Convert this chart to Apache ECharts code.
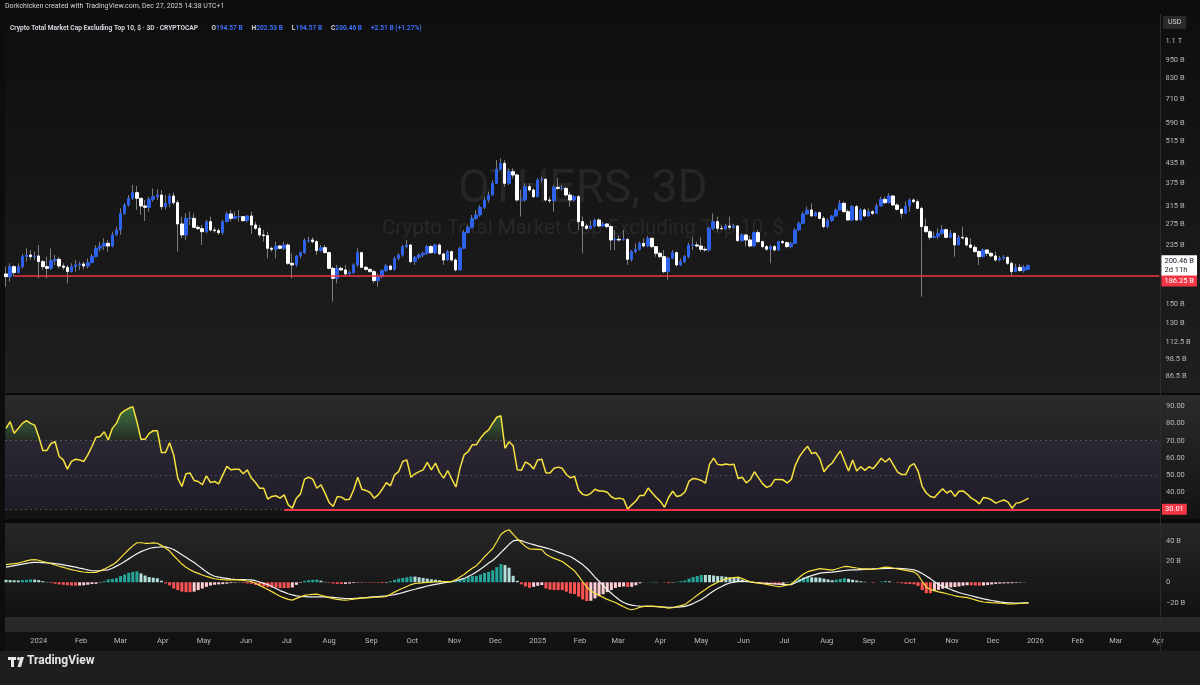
<!DOCTYPE html>
<html><head><meta charset="utf-8">
<script src="https://cdn.jsdelivr.net/npm/echarts@6/dist/echarts.min.js"></script>
<style>html,body{margin:0;padding:0;background:#1e1e1e;}#c{width:1200px;height:685px;}</style>
</head><body><div id="c"></div>
<script>
// ---------- DATA (values in billions USD) ----------
const firstCandle = '2023-12-08';
const candleDays = 3;
const openB = [188.3,184.5,199.0,190.2,199.0,214.7,217.4,214.7,215.8,206.7,
199.0,196.5,208.3,210.4,200.0,198.0,191.6,199.0,201.6,203.1,
200.0,205.1,214.7,228.7,232.7,237.5,232.7,253.0,262.7,298.1,
317.5,334.0,348.6,334.0,315.1,312.0,331.4,338.2,342.5,313.5,
321.6,339.9,323.2,275.0,253.0,287.0,287.0,268.1,265.4,259.4,
279.9,262.7,261.4,257.5,279.9,296.6,287.0,290.7,290.7,282.0,
292.1,272.9,266.1,253.0,251.7,228.7,227.0,232.7,228.7,234.5,
204.1,201.6,215.8,221.3,242.3,243.6,240.5,224.7,229.8,221.3,
196.5,182.2,196.5,194.1,188.3,190.2,201.6,221.3,198.0,195.0,
191.6,179.0,184.5,193.1,200.0,195.0,212.0,217.4,231.6,234.5,
206.7,213.6,217.4,220.2,231.6,221.3,234.5,219.1,209.3,223.0,
209.3,194.1,228.7,257.5,268.1,287.0,294.4,312.0,329.8,342.5,
374.1,416.0,435.3,374.1,408.7,398.5,329.8,329.8,364.8,355.7,
338.2,383.7,385.7,329.8,328.1,363.0,360.2,360.2,342.5,329.8,
338.2,279.9,270.8,266.1,270.8,283.4,270.8,275.0,269.5,243.6,
244.8,243.6,244.8,210.4,223.0,227.0,237.5,232.7,246.7,231.6,
220.2,214.7,191.6,212.0,221.3,201.6,206.7,214.7,234.5,234.5,
232.7,227.0,225.8,266.1,279.9,266.1,265.4,270.8,268.1,270.8,
242.3,253.0,243.6,232.7,257.5,240.5,231.6,227.0,231.6,225.8,
240.5,238.7,231.6,237.5,262.7,276.4,296.6,305.7,292.1,299.6,
287.0,269.5,282.0,292.1,305.7,321.6,301.9,283.4,313.5,283.4,
305.7,292.1,301.9,298.1,315.1,331.4,323.2,339.9,317.5,307.3,
298.1,315.1,329.8,325.6,309.6,269.5,259.4,248.5,249.8,256.2,
263.4,248.5,256.2,234.5,248.5,247.3,234.5,230.4,223.0,214.7,
225.8,220.2,215.8,209.3,212.0,213.6,204.1,191.6,198.0,193.1,
194.57];
const highB = [199.0,204.1,201.6,204.1,219.1,228.7,225.8,223.0,234.5,209.3,
214.7,228.7,217.4,214.7,204.1,201.6,204.1,209.3,206.7,206.7,
212.0,219.1,234.5,240.5,246.7,243.6,259.4,269.5,309.6,321.6,
342.5,369.5,366.7,334.0,329.8,338.2,360.2,357.5,355.7,342.5,
346.9,348.6,329.8,290.7,298.1,301.9,298.1,272.9,272.9,283.4,
290.7,268.1,266.1,283.4,301.9,305.7,301.9,305.7,292.1,294.4,
301.9,279.9,272.9,262.7,259.4,231.6,240.5,234.5,240.5,237.5,
220.2,217.4,223.0,246.7,249.8,248.5,243.6,234.5,234.5,223.0,
199.0,201.6,199.0,201.6,193.1,204.1,228.7,223.0,200.0,196.5,
194.1,189.2,195.0,203.1,201.6,214.7,220.2,234.5,243.6,236.3,
215.8,220.2,223.0,234.5,234.5,236.3,237.5,221.3,225.8,224.7,
212.0,231.6,262.7,272.9,294.4,305.7,317.5,338.2,351.3,383.7,
446.5,452.1,446.5,419.2,419.2,403.6,355.7,374.1,374.1,360.2,
388.6,393.5,388.6,338.2,369.5,388.6,369.5,364.8,351.3,342.5,
342.5,290.7,275.0,282.0,287.0,287.0,279.9,276.4,272.9,262.7,
253.0,262.7,246.7,225.8,237.5,240.5,246.7,251.2,248.5,232.7,
223.0,225.8,214.7,225.8,223.0,212.0,217.4,238.7,248.5,240.5,
248.5,231.6,269.5,298.1,290.7,272.9,275.0,290.7,275.0,272.9,
256.2,254.9,251.2,259.4,262.7,242.3,234.5,234.5,234.5,242.3,
243.6,240.5,240.5,266.1,279.9,301.9,313.5,321.6,301.9,301.9,
292.1,287.0,294.4,309.6,329.8,325.6,307.3,317.5,317.5,309.6,
309.6,309.6,305.7,321.6,338.2,338.2,346.9,342.5,321.6,309.6,
325.6,334.0,334.0,331.4,313.5,287.0,264.1,259.4,266.1,272.9,
265.4,262.7,257.5,253.0,269.5,249.8,246.7,234.5,225.8,228.7,
227.0,223.0,223.0,215.8,217.4,214.7,206.7,203.1,203.1,201.6,
202.53];
const lowB = [171.0,177.7,184.5,189.2,196.5,206.7,209.3,209.3,182.2,194.1,
182.2,194.1,201.6,196.5,194.1,175.4,190.2,191.6,194.1,195.0,
196.5,204.1,213.6,223.0,225.8,223.0,230.4,251.0,253.0,294.4,
313.5,329.8,305.7,294.4,281.3,301.9,325.6,329.8,305.7,307.3,
312.0,317.5,223.0,246.7,243.6,272.9,266.1,262.7,234.5,256.2,
259.4,257.5,253.0,253.0,277.7,279.9,284.8,279.9,279.9,277.7,
254.9,262.7,248.5,240.5,212.0,223.0,212.0,227.0,225.8,201.6,
182.2,199.0,212.0,219.1,238.7,237.5,217.4,223.0,220.2,195.0,
152.7,175.4,193.1,185.4,186.9,188.3,199.0,196.5,193.1,190.2,
175.4,171.0,182.2,191.6,193.1,193.1,208.3,214.7,228.7,204.1,
201.6,210.4,213.6,217.4,219.1,219.1,217.4,201.6,208.3,206.7,
191.6,193.1,227.0,256.2,266.1,283.4,290.7,307.3,323.2,339.9,
372.3,413.9,364.8,369.5,388.6,325.6,290.7,325.6,351.3,334.0,
336.5,375.8,325.6,321.6,301.9,355.7,354.0,338.2,313.5,325.6,
262.7,220.2,262.7,264.1,268.1,268.1,269.5,266.1,225.8,225.8,
240.5,242.3,201.6,206.7,220.2,224.7,230.4,230.4,228.7,214.7,
212.0,189.2,179.9,210.4,199.0,200.0,204.1,212.0,225.8,230.4,
223.0,223.0,223.0,262.7,259.4,262.7,264.1,262.7,266.1,240.5,
240.5,231.6,230.4,231.6,237.5,228.7,224.7,204.1,223.0,224.7,
236.3,228.7,228.7,236.3,261.4,275.0,294.4,290.7,290.7,284.8,
266.1,266.1,279.9,290.7,304.2,299.6,282.0,282.0,282.0,282.0,
290.7,290.7,294.4,296.6,313.5,319.9,321.6,315.1,304.2,287.0,
296.6,301.9,321.6,307.3,158.6,257.5,243.6,246.7,244.8,253.0,
246.7,246.7,214.7,234.5,244.8,231.6,228.7,221.3,201.6,213.6,
215.8,213.6,206.7,206.7,209.3,201.6,185.4,191.6,191.6,190.2,
194.57];
const closeB = [184.5,199.0,190.2,199.0,214.7,217.4,214.7,215.8,206.7,199.0,
196.5,208.3,210.4,200.0,198.0,191.6,199.0,201.6,203.1,200.0,
205.1,214.7,228.7,232.7,237.5,232.7,253.0,262.7,298.1,317.5,
334.0,348.6,334.0,315.1,312.0,331.4,338.2,342.5,313.5,321.6,
339.9,323.2,275.0,253.0,287.0,287.0,268.1,265.4,259.4,279.9,
262.7,261.4,257.5,279.9,296.6,287.0,290.7,290.7,282.0,292.1,
272.9,266.1,253.0,251.7,228.7,227.0,232.7,228.7,234.5,204.1,
201.6,215.8,221.3,242.3,243.6,240.5,224.7,229.8,221.3,196.5,
182.2,196.5,194.1,188.3,190.2,201.6,221.3,198.0,195.0,191.6,
179.0,184.5,193.1,200.0,195.0,212.0,217.4,231.6,234.5,206.7,
213.6,217.4,220.2,231.6,221.3,234.5,219.1,209.3,223.0,209.3,
194.1,228.7,257.5,268.1,287.0,294.4,312.0,329.8,342.5,374.1,
416.0,435.3,374.1,408.7,398.5,329.8,329.8,364.8,355.7,338.2,
383.7,385.7,329.8,328.1,363.0,360.2,360.2,342.5,329.8,338.2,
279.9,270.8,266.1,270.8,283.4,270.8,275.0,269.5,243.6,244.8,
243.6,244.8,210.4,223.0,227.0,237.5,232.7,246.7,231.6,220.2,
214.7,191.6,212.0,221.3,201.6,206.7,214.7,234.5,234.5,232.7,
227.0,225.8,266.1,279.9,266.1,265.4,270.8,268.1,270.8,242.3,
253.0,243.6,232.7,257.5,240.5,231.6,227.0,231.6,225.8,240.5,
238.7,231.6,237.5,262.7,276.4,296.6,305.7,292.1,299.6,287.0,
269.5,282.0,292.1,305.7,321.6,301.9,283.4,313.5,283.4,305.7,
292.1,301.9,298.1,315.1,331.4,323.2,339.9,317.5,307.3,298.1,
315.1,329.8,325.6,309.6,269.5,259.4,248.5,249.8,256.2,263.4,
248.5,256.2,234.5,248.5,247.3,234.5,230.4,223.0,214.7,225.8,
220.2,215.8,209.3,212.0,213.6,204.1,191.6,198.0,193.1,197.95,
200.46];
const rsiValues = [77.2,81.1,74.3,77.2,80.1,81.7,80.1,79.1,72.3,64.3,
64.3,68.4,69.4,60.8,58.8,53.4,57.9,59.2,58.8,57.9,
61.7,66.6,72.0,72.4,75.2,70.4,77.2,80.1,85.6,87.5,
88.9,89.9,81.1,70.8,70.8,74.3,75.8,75.8,63.1,63.1,
68.8,61.7,48.2,43.3,50.7,51.1,46.8,46.2,44.3,49.5,
45.6,46.2,44.8,50.1,55.0,53.0,53.4,53.4,50.7,53.0,
48.2,45.6,42.3,42.3,35.9,37.5,37.9,36.5,38.4,32.6,
30.7,36.5,39.0,47.6,48.7,47.6,42.3,44.3,39.4,34.0,
31.6,37.5,37.1,35.5,35.9,41.4,48.7,41.7,41.0,39.8,
36.5,38.4,41.7,45.6,43.7,50.1,52.0,57.9,58.8,48.7,
50.7,52.0,53.0,57.3,53.0,56.9,51.5,48.2,52.6,47.6,
43.0,54.0,61.7,63.7,67.6,67.6,71.5,74.4,76.3,80.2,
83.7,84.5,65.6,69.4,67.0,53.1,52.7,57.6,56.2,53.5,
58.8,59.2,51.3,51.1,53.9,54.6,53.9,50.3,48.3,49.3,
41.3,38.7,38.1,39.3,41.7,40.7,40.7,39.9,37.3,36.1,
36.5,35.9,30.1,32.6,34.8,38.1,38.1,42.4,39.5,36.9,
34.6,31.2,36.9,40.5,37.5,38.1,40.1,46.4,48.0,47.6,
46.8,45.2,56.2,59.8,56.2,55.8,56.4,56.0,56.2,48.0,
48.7,45.4,47.4,51.9,48.3,44.8,42.8,43.8,47.4,47.4,
47.2,45.4,47.4,55.8,60.7,64.1,66.7,62.5,63.1,59.4,
51.9,55.0,57.0,60.7,64.1,58.2,52.3,58.8,52.3,54.8,
52.7,54.8,53.7,56.6,59.8,57.6,59.8,55.8,51.7,50.3,
50.3,55.2,56.6,52.3,43.4,39.5,37.5,36.9,39.5,42.0,
39.5,40.9,37.5,40.5,40.7,38.9,36.5,35.2,33.2,36.9,
36.5,35.4,33.6,34.6,35.4,34.2,30.6,33.6,34.0,35.2,
36.5];
const macdLine = [16.9,17.4,17.9,18.4,19.5,20.5,21.5,21.8,21.2,20.0,
19.0,17.8,16.6,15.4,14.3,13.2,12.2,11.3,10.5,9.9,
9.5,9.4,9.5,10.8,12.6,14.7,16.7,19.5,23.5,27.5,
31.5,35.0,38.0,38.0,37.5,37.5,37.8,37.5,35.5,33.0,
30.0,25.5,21.5,17.5,14.5,12.0,10.0,8.5,7.0,5.6,
4.4,3.4,2.9,2.5,2.3,2.3,2.3,2.3,1.8,1.2,
0.7,-1.0,-3.0,-5.0,-7.0,-9.0,-11.2,-13.5,-15.0,-16.5,
-17.2,-15.5,-14.0,-12.6,-12.0,-11.6,-11.4,-12.5,-13.6,-14.8,
-15.8,-16.4,-17.0,-17.2,-16.8,-16.2,-15.7,-15.3,-15.0,-14.7,
-14.4,-14.2,-14.1,-13.5,-11.5,-9.5,-7.5,-5.8,-4.0,-2.2,
-1.2,-0.8,-0.4,-0.1,0.2,0.5,0.7,0.7,0.7,0.7,
2.5,5.0,7.5,10.5,13.5,16.0,20.0,24.5,28.5,32.5,
39.0,46.0,49.0,50.5,46.0,42.0,38.0,34.5,32.0,31.8,
31.6,31.4,27.0,24.8,23.0,21.5,20.0,17.0,14.0,11.0,
6.0,0.5,-4.5,-8.3,-10.5,-12.5,-14.5,-16.5,-18.0,-19.5,
-21.5,-23.5,-25.5,-26.4,-25.5,-24.0,-23.2,-23.0,-23.0,-23.1,
-23.6,-24.2,-24.8,-24.5,-23.5,-22.5,-21.5,-18.5,-15.5,-12.5,
-9.5,-7.0,-4.0,-2.0,0.0,1.8,3.3,4.0,4.5,5.0,
3.5,2.0,0.5,-0.3,-0.8,-1.4,-2.0,-2.8,-3.6,-4.3,
-3.5,-2.5,-1.7,1.5,4.8,8.0,10.2,11.2,12.2,13.2,
12.7,12.2,11.7,12.8,14.0,15.2,15.0,14.3,13.7,13.2,
12.9,12.6,12.3,13.0,13.8,14.6,14.3,13.5,12.8,12.2,
11.5,10.8,10.0,7.0,1.0,-4.5,-7.0,-8.0,-9.3,-10.0,
-11.0,-12.0,-13.0,-13.8,-14.3,-14.8,-15.8,-17.0,-18.2,-19.0,
-19.3,-19.6,-19.8,-20.1,-20.4,-20.7,-20.8,-20.6,-20.4,-20.1,
-19.8];
const signalLine = [14.6,15.3,16.0,16.7,17.4,18.1,18.8,19.2,19.1,18.9,
18.7,18.5,18.0,17.4,16.7,16.0,15.3,14.5,13.6,12.8,
11.9,11.1,11.0,11.2,11.6,12.0,13.5,15.5,17.5,20.0,
22.5,25.0,27.5,29.5,31.0,32.5,33.4,33.7,34.0,34.1,
33.0,31.5,29.0,26.5,24.0,21.5,19.0,16.0,13.0,10.0,
7.5,5.8,4.9,4.3,3.7,3.1,2.8,2.6,2.5,2.4,
2.3,1.5,0.3,-1.0,-2.2,-4.0,-6.0,-8.0,-9.5,-11.0,
-12.2,-13.0,-13.5,-13.9,-14.0,-14.0,-14.0,-14.0,-14.0,-14.3,
-14.6,-14.9,-15.3,-15.6,-15.6,-15.5,-15.3,-15.0,-14.7,-14.3,
-14.0,-13.7,-13.4,-13.0,-12.5,-11.8,-11.0,-10.0,-8.8,-7.7,
-6.7,-5.6,-4.6,-3.6,-2.7,-2.0,-1.3,-0.6,0.0,0.6,
1.5,2.6,3.7,5.5,7.5,9.8,12.5,15.5,18.5,21.0,
24.5,28.5,32.5,36.5,39.8,40.6,40.0,38.5,37.3,36.2,
35.0,34.0,33.0,32.0,30.5,29.0,27.5,26.0,24.8,22.3,
19.8,17.0,13.5,9.5,5.0,1.0,-3.0,-7.0,-10.5,-14.0,
-17.0,-19.5,-21.0,-22.0,-22.6,-23.0,-23.1,-23.2,-23.3,-23.4,
-23.6,-23.8,-24.0,-24.1,-24.0,-23.6,-23.2,-22.0,-20.5,-18.5,
-16.5,-14.0,-11.0,-8.5,-6.0,-4.0,-2.0,-0.7,0.2,0.9,
1.0,0.8,0.3,-0.1,-0.4,-0.8,-1.1,-1.4,-1.6,-1.8,
-2.0,-2.2,-2.3,-0.5,1.5,3.5,5.2,6.4,7.6,8.8,
9.2,9.5,9.8,10.3,10.8,11.3,11.7,11.9,12.0,12.2,
12.4,12.6,12.8,13.0,13.2,13.3,13.4,13.4,13.3,13.2,
12.9,12.5,12.0,10.5,8.5,6.0,3.5,0.5,-2.0,-3.8,
-5.3,-7.0,-8.5,-9.8,-11.0,-12.0,-13.0,-14.0,-15.0,-15.9,
-16.7,-17.5,-18.2,-18.8,-19.3,-19.7,-19.9,-20.0,-20.0,-19.9,
-19.8];
const macdHist = [2.3,2.1,1.9,1.7,2.1,2.4,2.7,2.6,2.1,1.1,
0.3,-0.7,-1.4,-2.0,-2.4,-2.8,-3.1,-3.2,-3.1,-2.9,
-2.4,-1.7,-1.5,-0.4,1.0,2.7,3.2,4.0,6.0,7.5,
9.0,10.0,10.5,8.5,6.5,5.0,4.4,3.8,1.5,-1.1,
-3.0,-6.0,-7.5,-9.0,-9.5,-9.5,-9.0,-7.5,-6.0,-4.4,
-3.1,-2.4,-2.0,-1.8,-1.4,-0.8,-0.5,-0.3,-0.7,-1.2,
-1.6,-2.5,-3.3,-4.0,-4.8,-5.0,-5.2,-5.5,-5.5,-5.5,
-5.0,-2.5,-0.5,1.3,2.0,2.4,2.6,1.5,0.4,-0.5,
-1.2,-1.5,-1.7,-1.6,-1.2,-0.7,-0.4,-0.3,-0.3,-0.4,
-0.4,-0.5,-0.7,-0.5,1.0,2.3,3.5,4.2,4.8,5.5,
5.5,4.8,4.2,3.5,2.9,2.5,2.0,1.3,0.7,0.1,
1.0,2.4,3.8,5.0,6.0,6.2,7.5,9.0,10.0,11.5,
14.5,17.5,16.5,14.0,6.2,1.4,-2.0,-4.0,-5.3,-4.4,
-3.4,-2.6,-6.0,-7.2,-7.5,-7.5,-7.5,-9.0,-10.8,-11.3,
-13.8,-16.5,-18.0,-17.8,-15.5,-13.5,-11.5,-9.5,-7.5,-5.5,
-4.5,-4.0,-4.5,-4.4,-2.9,-1.0,-0.1,0.2,0.3,0.3,
0.0,-0.4,-0.8,-0.4,0.5,1.1,1.7,3.5,5.0,6.0,
7.0,7.0,7.0,6.5,6.0,5.8,5.3,4.7,4.3,4.1,
2.5,1.2,0.2,-0.2,-0.4,-0.6,-0.9,-1.4,-2.0,-2.5,
-1.5,-0.3,0.6,2.0,3.3,4.5,5.0,4.8,4.6,4.4,
3.5,2.7,1.9,2.5,3.2,3.9,3.3,2.4,1.7,1.0,
0.5,0.0,-0.5,0.0,0.6,1.3,0.9,0.1,-0.5,-1.0,
-1.4,-1.7,-2.0,-3.5,-7.5,-10.5,-10.5,-8.5,-7.3,-6.2,
-5.7,-5.0,-4.5,-4.0,-3.3,-2.8,-2.8,-3.0,-3.2,-3.1,
-2.6,-2.1,-1.6,-1.3,-1.1,-1.0,-0.9,-0.6,-0.4,-0.2,
0.0];
const priceTicks = [1100,950,830,710,590,515,435,375,315,275,235,150,130,112.5,98.5,86.5];
const priceTickLabels = ['1.1 T','950 B','830 B','710 B','590 B','515 B','435 B','375 B','315 B','275 B','235 B','150 B','130 B','112.5 B','98.5 B','86.5 B'];
const rsiTicks = [40,50,60,70,80,90];
const macdTicks = [-20,0,20,40];
const macdTickLabels = ['\u221220 B','0','20 B','40 B'];
const monthTicks = ['2024-01-01','2024-02-01','2024-03-01','2024-04-01','2024-05-01','2024-06-01','2024-07-01','2024-08-01','2024-09-01','2024-10-01','2024-11-01','2024-12-01',
'2025-01-01','2025-02-01','2025-03-01','2025-04-01','2025-05-01','2025-06-01','2025-07-01','2025-08-01','2025-09-01','2025-10-01','2025-11-01','2025-12-01',
'2026-01-01','2026-02-01','2026-03-01','2026-04-01'];
const monthNames = ['Jan','Feb','Mar','Apr','May','Jun','Jul','Aug','Sep','Oct','Nov','Dec'];
const supportLevel = 186.25;
const supportFromIndex = 2;
const rsiLevel = 30.01;
const rsiLevelFromIndex = 68;
const rsiOverbought = 70;
const countdown = '2d 11h';
const headerLine1 = 'Dorkchicken created with TradingView.com, Dec 27, 2025 14:38 UTC+1';
const symbolName = 'Crypto Total Market Cap Excluding Top 10, $ \u00b7 3D \u00b7 CRYPTOCAP';
const watermark1 = 'OTHERS, 3D';
const watermark2 = 'Crypto Total Market Cap Excluding Top 10, $';

// ---------- BUILD ----------
const DAY = 86400000;
const t0 = Date.parse(firstCandle + 'T00:00:00Z');
const times = openB.map((_, i) => t0 + i * candleDays * DAY);
const lg = v => Math.log10(v);
const xMin = Date.UTC(2023, 11, 7, 6);
const xMax = Date.UTC(2026, 3, 2, 11);
const last = closeB.length - 1;

const wickData = times.map((t, i) => [t, lg(openB[i]), lg(closeB[i]), lg(lowB[i]), lg(highB[i])]);
const bodyData = times.map((t, i) => [t, lg(openB[i]), lg(closeB[i]), lg(Math.min(openB[i], closeB[i])), lg(Math.max(openB[i], closeB[i]))]);
const rsiData = times.map((t, i) => [t, rsiValues[i]]);
const macdData = times.map((t, i) => [t, macdLine[i]]);
const sigData = times.map((t, i) => [t, signalLine[i]]);
const histData = times.map((t, i) => [t, macdHist[i]]);

const FONT = 'Roboto, "Noto Sans", sans-serif';
const AX = '#b7bac2';
const UP = '#2f62ea';
const G = echarts.graphic.LinearGradient;

const chg = closeB[last] - closeB[last - 1];
const pct = chg / closeB[last - 1] * 100;
const f2 = v => v.toFixed(2);
const header2 = '{t|' + symbolName + '}   {k|O}{v|' + f2(openB[last]) + ' B}  {k|H}{v|' + f2(highB[last]) +
  ' B}  {k|L}{v|' + f2(lowB[last]) + ' B}  {k|C}{v|' + f2(closeB[last]) + ' B}  {v|' + (chg >= 0 ? '+' : '') + f2(chg) +
  ' B (' + (pct >= 0 ? '+' : '') + f2(pct) + '%)}';

// fill between RSI line and the overbought level, segment by segment
function renderOverbought(params, api) {
  const i = params.dataIndex;
  if (i >= rsiValues.length - 1) return null;
  const L = rsiOverbought, a = rsiValues[i], b = rsiValues[i + 1];
  if (a <= L && b <= L) return null;
  const ta = times[i], tb = times[i + 1];
  let pts;
  if (a >= L && b >= L) pts = [[ta, a], [tb, b], [tb, L], [ta, L]];
  else if (a > L) { const tc = ta + (tb - ta) * (a - L) / (a - b); pts = [[ta, a], [tc, L], [ta, L]]; }
  else { const tc = ta + (tb - ta) * (L - a) / (b - a); pts = [[tc, L], [tb, b], [tb, L]]; }
  const yTop = api.coord([ta, 92])[1], yBase = api.coord([ta, L])[1];
  return { type: 'polygon', shape: { points: pts.map(p => api.coord(p)) },
    style: { fill: new G(0, yTop, 0, yBase, [{ offset: 0, color: 'rgba(76,175,80,0.62)' }, { offset: 1, color: 'rgba(76,175,80,0.06)' }], true) } };
}

function hiddenX(grid) {
  return { type: 'value', gridIndex: grid, min: xMin, max: xMax, axisLine: { show: false }, axisTick: { show: false },
    axisLabel: { show: false }, splitLine: { show: false } };
}
function yAx(grid, min, max, extra) {
  return Object.assign({ type: 'value', gridIndex: grid, position: 'right', min: min, max: max, scale: true,
    splitLine: { show: false }, axisTick: { show: false }, axisLine: { show: false } }, extra);
}

const chart = echarts.init(document.getElementById('c'), null, { renderer: 'canvas' });
chart.setOption({
  animation: false,
  backgroundColor: '#141414',
  textStyle: { fontFamily: FONT },
  graphic: { elements: [
    { type: 'rect', z: -10, shape: { x: 0, y: 0, width: 1200, height: 14 }, style: { fill: '#0d0d0d' } },
    { type: 'rect', z: -10, shape: { x: 0, y: 14, width: 1200, height: 379 }, style: { fill: new G(0, 0, 0, 1, [{ offset: 0, color: '#0e0e0e' }, { offset: 1, color: '#1f1f1f' }]) } },
    { type: 'rect', z: -10, shape: { x: 0, y: 393, width: 1200, height: 2 }, style: { fill: '#0a0a0a' } },
    { type: 'rect', z: -10, shape: { x: 0, y: 395, width: 1200, height: 124 }, style: { fill: new G(0, 0, 0, 1, [{ offset: 0, color: '#2b2b2b' }, { offset: 1, color: '#131313' }]) } },
    { type: 'rect', z: -10, shape: { x: 0, y: 519, width: 1200, height: 4 }, style: { fill: '#0a0a0a' } },
    { type: 'rect', z: -10, shape: { x: 0, y: 523, width: 1200, height: 94 }, style: { fill: new G(0, 0, 0, 1, [{ offset: 0, color: '#272727' }, { offset: 1, color: '#111111' }]) } },
    { type: 'rect', z: -10, shape: { x: 0, y: 617, width: 1200, height: 15 }, style: { fill: '#292929' } },
    { type: 'rect', z: -10, shape: { x: 0, y: 632, width: 1200, height: 19 }, style: { fill: '#121212' } },
    { type: 'rect', z: -10, shape: { x: 0, y: 651, width: 1200, height: 34 }, style: { fill: '#1e1e1e' } },
    { type: 'rect', z: -9, shape: { x: 0, y: 14, width: 5, height: 637 }, style: { fill: '#0d0d0d' } },
    { type: 'line', z: 5, shape: { x1: 1160.5, y1: 14, x2: 1160.5, y2: 651 }, style: { stroke: '#2c2c2c', lineWidth: 1 } },
    { type: 'rect', z: 5, shape: { x: 8, y: 657, width: 8, height: 3 }, style: { fill: '#e6e6e6' } },
    { type: 'rect', z: 5, shape: { x: 11, y: 657, width: 3, height: 10 }, style: { fill: '#e6e6e6' } },
    { type: 'circle', z: 5, shape: { cx: 18.5, cy: 658.6, r: 1.6 }, style: { fill: '#e6e6e6' } },
    { type: 'polygon', z: 5, shape: { points: [[20.5, 657], [24, 657], [21, 667], [17.5, 667]] }, style: { fill: '#e6e6e6' } }
  ] },
  title: [
    { text: headerLine1, left: 5, top: 3, padding: 0, textStyle: { color: '#d1d4dc', fontSize: 7, fontWeight: 'normal', fontFamily: FONT } },
    { text: header2, left: 10, top: 19, padding: 0, textStyle: { fontFamily: FONT, rich: {
      t: { color: '#d1d4dc', fontSize: 6.6, fontFamily: FONT }, k: { color: '#d1d4dc', fontSize: 6.6, fontFamily: FONT },
      v: { color: '#3d6ef5', fontSize: 6.6, fontFamily: FONT } } } },
    { text: watermark1, left: 583, top: 167, textAlign: 'center', z: 1, padding: 0, textStyle: { color: 'rgba(255,255,255,0.07)', fontSize: 46, fontWeight: 'normal', fontFamily: FONT } },
    { text: watermark2, left: 583, top: 218, textAlign: 'center', z: 1, padding: 0, textStyle: { color: 'rgba(255,255,255,0.07)', fontSize: 20.5, fontWeight: 'normal', fontFamily: FONT } },
    { text: 'USD', left: 1163, top: 16, padding: [3, 5], backgroundColor: '#2a2a2a', borderRadius: 2, textStyle: { color: '#d1d4dc', fontSize: 7, fontWeight: 'normal', fontFamily: FONT } },
    { text: 'TradingView', left: 27, top: 655, padding: 0, textStyle: { color: '#e6e6e6', fontSize: 12, fontWeight: 'bold', fontFamily: FONT } }
  ],
  grid: [
    { left: 5, right: 40, top: 14, height: 379 },
    { left: 5, right: 40, top: 395, height: 124 },
    { left: 5, right: 40, top: 523, height: 94 }
  ],
  xAxis: [
    hiddenX(0), hiddenX(1),
    { type: 'value', gridIndex: 2, min: xMin, max: xMax, axisLine: { show: false }, axisTick: { show: false },
      splitLine: { show: false },
      axisLabel: { show: true, margin: 20, color: AX, fontSize: 7.5, fontFamily: FONT, hideOverlap: false,
        customValues: monthTicks.map(d => Date.parse(d + 'T00:00:00Z')),
        formatter: v => { const d = new Date(v); const m = d.getUTCMonth(); return m === 0 ? String(d.getUTCFullYear()) : monthNames[m]; } } }
  ],
  yAxis: [
    yAx(0, lg(76.4), lg(1349.6), { axisLabel: { color: AX, fontSize: 7.5, margin: 6, fontFamily: FONT,
      customValues: priceTicks.map(lg),
      formatter: v => { let bi = 0, bd = 1e9; priceTicks.forEach((p, i) => { const d = Math.abs(lg(p) - v); if (d < bd) { bd = d; bi = i; } }); return priceTickLabels[bi]; } } }),
    yAx(0, lg(76.4), lg(1349.6), { axisLabel: { color: '#131722', fontSize: 7.5, margin: 2, fontFamily: FONT, backgroundColor: '#ffffff',
      padding: [2, 3, 1, 3], lineHeight: 9, customValues: [lg(closeB[last])],
      formatter: () => f2(closeB[last]) + ' B\n' + countdown } }),
    yAx(0, lg(76.4), lg(1349.6), { axisLabel: { color: '#ffffff', fontSize: 7.5, margin: 2, fontFamily: FONT, backgroundColor: '#f23645',
      padding: [2, 3, 1, 3], verticalAlign: 'top', customValues: [lg(supportLevel)],
      formatter: () => f2(supportLevel) + ' B' } }),
    yAx(1, 24.34, 96.65, { axisLabel: { color: AX, fontSize: 7.5, margin: 6, fontFamily: FONT, customValues: rsiTicks,
      formatter: v => v.toFixed(2) } }),
    yAx(1, 24.34, 96.65, { axisLabel: { color: '#ffffff', fontSize: 7.5, margin: 2, fontFamily: FONT, backgroundColor: '#f23645',
      padding: [2, 3, 1, 3], customValues: [rsiLevel], formatter: () => rsiLevel.toFixed(2) } }),
    yAx(2, -33.4, 57.0, { axisLabel: { color: AX, fontSize: 7.5, margin: 6, fontFamily: FONT, customValues: macdTicks,
      formatter: v => macdTickLabels[macdTicks.indexOf(v)] } })
  ],
  series: [
    { type: 'candlestick', name: 'wick', xAxisIndex: 0, yAxisIndex: 0, data: wickData, barWidth: 1, z: 3, silent: true,
      itemStyle: { color: '#7c7c7c', color0: '#7c7c7c', borderColor: '#7c7c7c', borderColor0: '#7c7c7c', borderWidth: 1 } },
    { type: 'candlestick', name: 'body', xAxisIndex: 0, yAxisIndex: 0, data: bodyData, barWidth: 3, z: 4, silent: true,
      itemStyle: { color: UP, color0: '#ffffff', borderColor: UP, borderColor0: '#ffffff', borderWidth: 1 },
      markLine: { silent: true, symbol: ['none', 'none'], label: { show: false }, animation: false,
        lineStyle: { color: '#f23645', width: 1.5, type: 'solid' },
        data: [[{ coord: [times[supportFromIndex], lg(supportLevel)] }, { coord: [xMax, lg(supportLevel)] }]] } },
    { type: 'custom', name: 'Overbought fill', xAxisIndex: 1, yAxisIndex: 3, data: rsiData, encode: { x: 0, y: 1 },
      renderItem: renderOverbought, silent: true, z: 3, clip: true },
    { type: 'line', name: 'RSI', xAxisIndex: 1, yAxisIndex: 3, data: rsiData, symbol: 'none', silent: true, z: 4,
      lineStyle: { color: '#f7e23e', width: 1.5 },
      markArea: { silent: true, itemStyle: { color: 'rgba(126,87,194,0.11)' }, data: [[{ yAxis: 30 }, { yAxis: 70 }]] },
      markLine: { silent: true, symbol: ['none', 'none'], label: { show: false },
        data: [
          { yAxis: 70, lineStyle: { color: 'rgba(140,140,150,0.45)', type: [2, 3], width: 1 } },
          { yAxis: 50, lineStyle: { color: 'rgba(140,140,150,0.35)', type: [2, 3], width: 1 } },
          { yAxis: 30, lineStyle: { color: 'rgba(140,140,150,0.45)', type: [2, 3], width: 1 } },
          [{ coord: [times[rsiLevelFromIndex], rsiLevel], lineStyle: { color: '#f23645', width: 2, type: 'solid' } }, { coord: [xMax, rsiLevel] }]
        ] } },
    { type: 'bar', name: 'Histogram', xAxisIndex: 2, yAxisIndex: 5, data: histData, barWidth: 3, silent: true, z: 2,
      itemStyle: { color: p => { const i = p.dataIndex; const v = macdHist[i]; const pv = i > 0 ? macdHist[i - 1] : v;
        if (v >= 0) return pv < v ? '#26a69a' : '#b2dfdb'; return pv < v ? '#ffcdd2' : '#ff5252'; } } },
    { type: 'line', name: 'Signal', xAxisIndex: 2, yAxisIndex: 5, data: sigData, symbol: 'none', silent: true, z: 3,
      lineStyle: { color: '#f2f2f2', width: 1.2 } },
    { type: 'line', name: 'MACD', xAxisIndex: 2, yAxisIndex: 5, data: macdData, symbol: 'none', silent: true, z: 4,
      lineStyle: { color: '#f7e23e', width: 1.2 } }
  ]
});
</script>
</body></html>
